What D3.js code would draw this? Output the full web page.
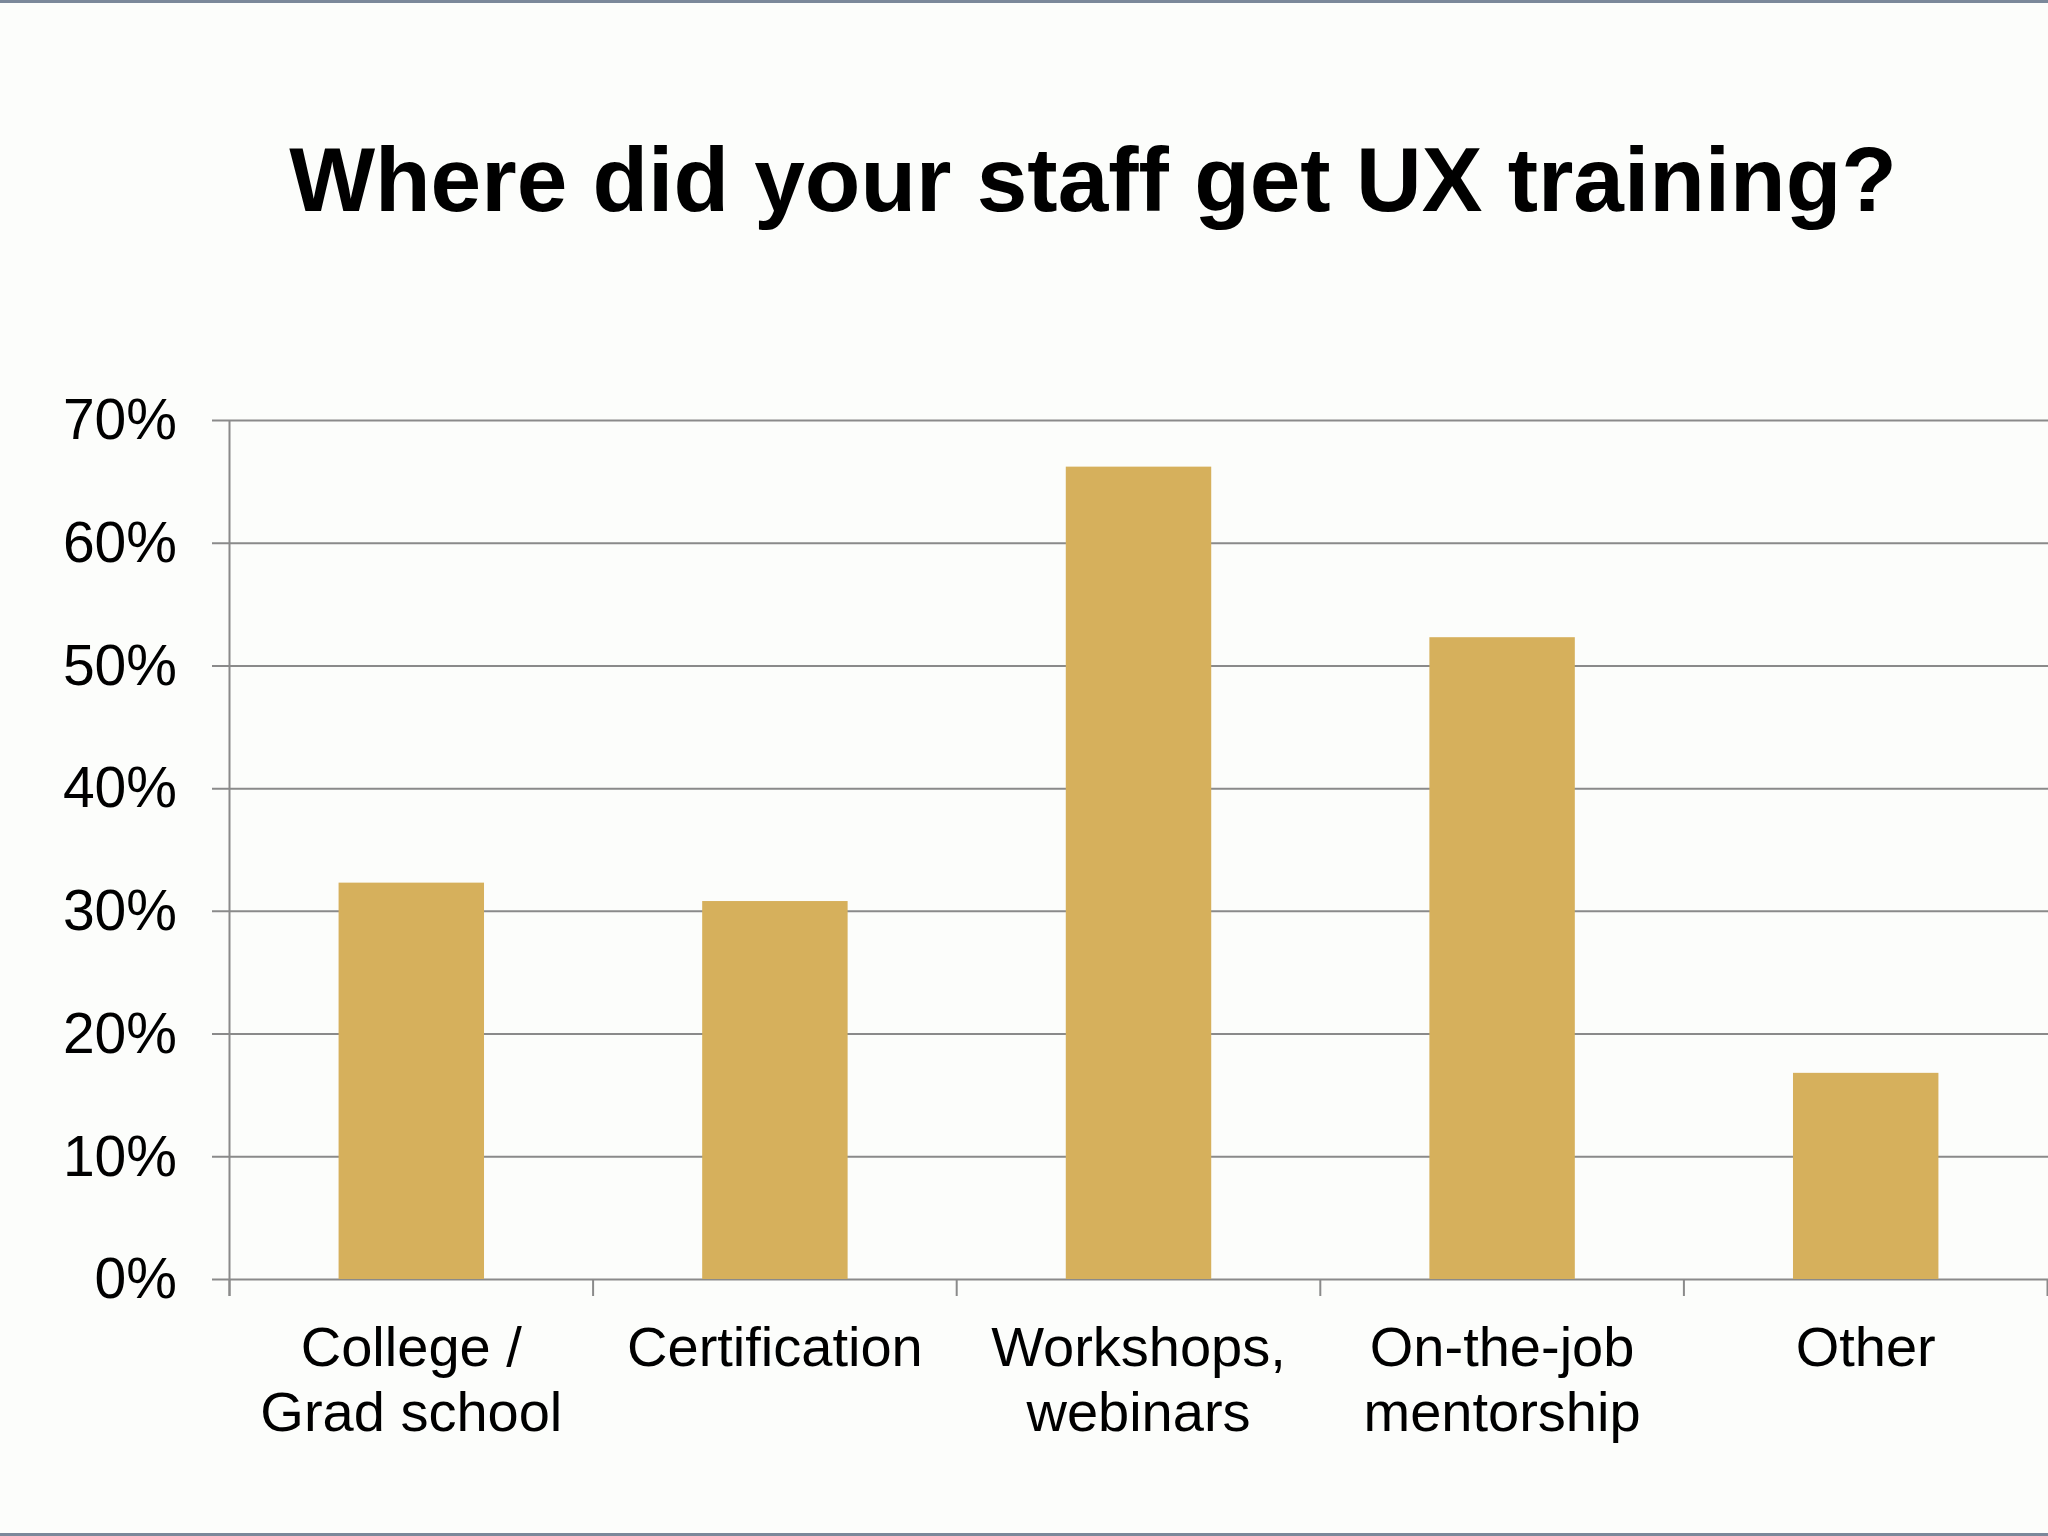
<!DOCTYPE html>
<html>
<head>
<meta charset="utf-8">
<script src="https://cdn.jsdelivr.net/npm/d3@7"></script>
<style>
  html, body { margin: 0; padding: 0; background: #fcfdfb; }
  svg { display: block; }
</style>
</head>
<body>
<svg id="chart" width="2048" height="1536"></svg>
<script>
const title = "Where did your staff get UX training?";
const categories = [
  ["College /", "Grad school"],
  ["Certification"],
  ["Workshops,", "webinars"],
  ["On-the-job", "mentorship"],
  ["Other"]
];
const values = [0.323, 0.308, 0.662, 0.523, 0.168];
const yTicks = [0, 0.1, 0.2, 0.3, 0.4, 0.5, 0.6, 0.7];

const W = 2048, H = 1536;
const svg = d3.select("#chart");

svg.append("rect").attr("width", W).attr("height", H).attr("fill", "#fcfdfb");
svg.append("rect").attr("x", 0).attr("y", 0).attr("width", W).attr("height", 3).attr("fill", "#7b889a");
svg.append("rect").attr("x", 0).attr("y", H - 3).attr("width", W).attr("height", 3).attr("fill", "#7b889a");

const keys = categories.map(c => c.join(" "));
const x = d3.scaleBand().domain(keys).range([229.5, 2047.5]).paddingInner(0.6).paddingOuter(0.3);
const y = d3.scaleLinear().domain([0, 0.7]).range([1279, 420]);

const font = "'Liberation Sans', Arial, Helvetica, sans-serif";
const grid = "#8a8a8a";

// title
svg.append("text")
  .attr("x", 1093).attr("y", 211)
  .attr("text-anchor", "middle")
  .attr("font-family", font).attr("font-weight", "bold").attr("font-size", 91)
  .attr("fill", "#000")
  .text(title);

// gridlines + y labels
const yg = svg.append("g").attr("transform", "translate(212,0)")
  .call(d3.axisRight(y).tickValues(yTicks).tickSize(2048 - 212).tickFormat(d3.format(".0%")));
yg.select(".domain").remove();
yg.selectAll(".tick line").attr("stroke", grid).attr("stroke-width", 2);
yg.selectAll(".tick text")
  .attr("x", 177 - 212).attr("dy", "0.33em")
  .attr("text-anchor", "end")
  .attr("font-family", font).attr("font-size", 57).attr("fill", "#000");

// bars
svg.append("g").selectAll("rect").data(values).join("rect")
  .attr("x", (d, i) => x(keys[i]))
  .attr("width", x.bandwidth())
  .attr("y", d => y(d))
  .attr("height", d => y(0) - y(d))
  .attr("fill", "#d6b05c");

// vertical axis line
svg.append("line")
  .attr("x1", 229.5).attr("x2", 229.5).attr("y1", y(0.7)).attr("y2", 1296)
  .attr("stroke", grid).attr("stroke-width", 2);

// category tick marks at band boundaries
const step = x.step();
const boundaries = d3.range(keys.length + 1).map(i => x(keys[0]) - x.paddingOuter() * step + i * step);
svg.append("g").selectAll("line").data(boundaries).join("line")
  .attr("x1", d => d).attr("x2", d => d)
  .attr("y1", y(0)).attr("y2", 1296)
  .attr("stroke", grid).attr("stroke-width", 2);

// category labels
const lab = svg.append("g").selectAll("text").data(categories).join("text")
  .attr("x", (d, i) => x(keys[i]) + x.bandwidth() / 2)
  .attr("y", 1366)
  .attr("text-anchor", "middle")
  .attr("font-family", font).attr("font-size", 56).attr("fill", "#000");
lab.selectAll("tspan").data(d => d).join("tspan")
  .attr("x", function() { return this.parentNode.getAttribute("x"); })
  .attr("dy", (d, i) => i === 0 ? 0 : 65)
  .text(d => d);
</script>
</body>
</html>
